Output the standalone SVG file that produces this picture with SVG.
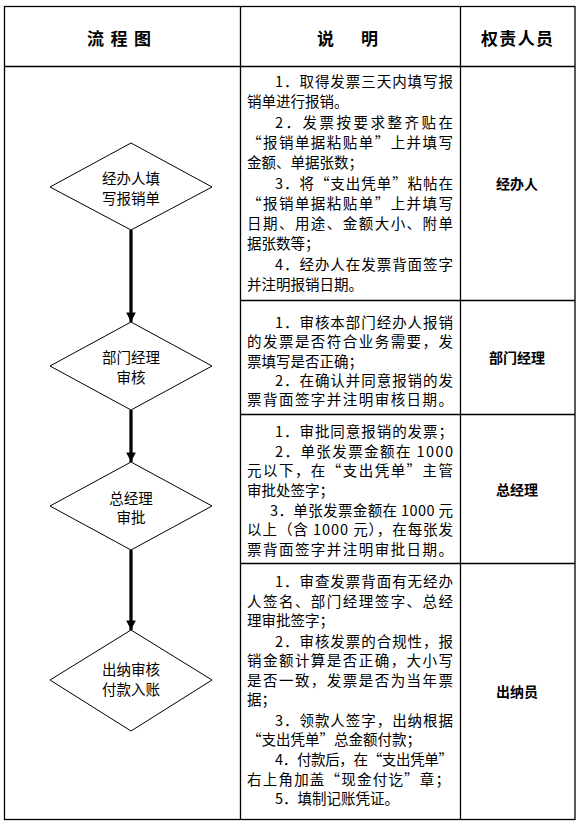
<svg xmlns="http://www.w3.org/2000/svg" width="581" height="825" viewBox="0 0 581 825">
<style>
.grid{stroke:#000;stroke-width:1.3;fill:none}
.dia{fill:#fff;stroke:#000;stroke-width:1}
.arr{stroke:#000;stroke-width:3.2;fill:none}
text{font-family:"Noto Sans CJK SC","Liberation Sans",sans-serif;fill:#000;dominant-baseline:central}
.hd{font-size:17px;font-weight:bold}
.dt{font-size:14.5px;text-anchor:middle}
.rl{font-size:14px;font-weight:bold;text-anchor:middle}
.ds{font-size:14.5px}
</style>
<defs>
<marker id="ah" viewBox="0 0 10 10" refX="10" refY="5" markerWidth="3" markerHeight="3" orient="auto" markerUnits="strokeWidth">
<path d="M0,0 L10,5 L0,10 z" fill="#000"/>
</marker>
</defs>
<rect width="581" height="825" fill="#fff"/>
<g id="table">
<rect class="grid" x="4.5" y="6.5" width="570.5" height="813"/>
<line class="grid" x1="240.5" y1="6.5" x2="240.5" y2="819.5"/>
<line class="grid" x1="460.5" y1="6.5" x2="460.5" y2="819.5"/>
<line class="grid" x1="4.5" y1="66.5" x2="575" y2="66.5"/>
<line class="grid" x1="240.5" y1="300.5" x2="575" y2="300.5"/>
<line class="grid" x1="240.5" y1="414.5" x2="575" y2="414.5"/>
<line class="grid" x1="240.5" y1="563.5" x2="575" y2="563.5"/>
</g>
<g id="header">
<text class="hd" x="87" y="37" textLength="64" lengthAdjust="spacing">流 程 图</text>
<text class="hd" x="317" y="37" textLength="61" lengthAdjust="spacing">说 明</text>
<text class="hd" x="481" y="37" textLength="72" lengthAdjust="spacing">权责人员</text>
</g>
<g id="connectors">
<line class="arr" x1="131" y1="230" x2="131" y2="322" marker-end="url(#ah)"/>
<line class="arr" x1="131" y1="410" x2="131" y2="462" marker-end="url(#ah)"/>
<line class="arr" x1="131" y1="550" x2="131" y2="630" marker-end="url(#ah)"/>
</g>
<g id="node1">
<polygon class="dia" points="131,143 212,187 131,230 50,187"/>
<text class="dt" x="131" y="177">经办人填</text>
<text class="dt" x="131" y="197">写报销单</text>
</g>
<g id="node2">
<polygon class="dia" points="131,322 212,366 131,410 50,366"/>
<text class="dt" x="131" y="356">部门经理</text>
<text class="dt" x="131" y="376">审核</text>
</g>
<g id="node3">
<polygon class="dia" points="131,462 212,506 131,550 50,506"/>
<text class="dt" x="131" y="497">总经理</text>
<text class="dt" x="131" y="516">审批</text>
</g>
<g id="node4">
<polygon class="dia" points="131,630 212,680 131,731 50,680"/>
<text class="dt" x="131" y="668">出纳审核</text>
<text class="dt" x="131" y="688">付款入账</text>
</g>
<g id="desc1">
<text class="ds" x="275" y="80" textLength="178" lengthAdjust="spacing">1．取得发票三天内填写报</text>
<text class="ds" x="247" y="100">销单进行报销。</text>
<text class="ds" x="275" y="121" textLength="178" lengthAdjust="spacing">2．发票按要求整齐贴在</text>
<text class="ds" x="247" y="141" textLength="206" lengthAdjust="spacing">“报销单据粘贴单”上并填写</text>
<text class="ds" x="247" y="161">金额、单据张数；</text>
<text class="ds" x="275" y="182" textLength="178" lengthAdjust="spacing">3．将“支出凭单”粘帖在</text>
<text class="ds" x="247" y="202" textLength="206" lengthAdjust="spacing">“报销单据粘贴单”上并填写</text>
<text class="ds" x="247" y="222" textLength="206" lengthAdjust="spacing">日期、用途、金额大小、附单</text>
<text class="ds" x="247" y="242">据张数等；</text>
<text class="ds" x="275" y="263" textLength="178" lengthAdjust="spacing">4．经办人在发票背面签字</text>
<text class="ds" x="247" y="283">并注明报销日期。</text>
</g>
<g id="desc2">
<text class="ds" x="275" y="321" textLength="178" lengthAdjust="spacing">1．审核本部门经办人报销</text>
<text class="ds" x="247" y="340" textLength="206" lengthAdjust="spacing">的发票是否符合业务需要，发</text>
<text class="ds" x="247" y="360">票填写是否正确；</text>
<text class="ds" x="275" y="379" textLength="178" lengthAdjust="spacing">2．在确认并同意报销的发</text>
<text class="ds" x="247" y="398" textLength="206" lengthAdjust="spacing">票背面签字并注明审核日期。</text>
</g>
<g id="desc3">
<text class="ds" x="275" y="430" textLength="178" lengthAdjust="spacing">1．审批同意报销的发票；</text>
<text class="ds" x="275" y="450" textLength="178" lengthAdjust="spacing">2．单张发票金额在 1000</text>
<text class="ds" x="247" y="469" textLength="206" lengthAdjust="spacing">元以下，在“支出凭单”主管</text>
<text class="ds" x="247" y="489">审批处签字；</text>
<text class="ds" x="270" y="509" textLength="183" lengthAdjust="spacing">3．单张发票金额在 1000 元</text>
<text class="ds" x="247" y="528" textLength="206" lengthAdjust="spacing">以上（含 1000 元），在每张发</text>
<text class="ds" x="247" y="548" textLength="206" lengthAdjust="spacing">票背面签字并注明审批日期。</text>
</g>
<g id="desc4">
<text class="ds" x="275" y="580" textLength="178" lengthAdjust="spacing">1．审查发票背面有无经办</text>
<text class="ds" x="247" y="600" textLength="206" lengthAdjust="spacing">人签名、部门经理签字、总经</text>
<text class="ds" x="247" y="619">理审批签字；</text>
<text class="ds" x="275" y="640" textLength="178" lengthAdjust="spacing">2．审核发票的合规性，报</text>
<text class="ds" x="247" y="659" textLength="206" lengthAdjust="spacing">销金额计算是否正确，大小写</text>
<text class="ds" x="247" y="679" textLength="206" lengthAdjust="spacing">是否一致，发票是否为当年票</text>
<text class="ds" x="247" y="698">据；</text>
<text class="ds" x="275" y="719" textLength="178" lengthAdjust="spacing">3．领款人签字，出纳根据</text>
<text class="ds" x="247" y="738">“支出凭单”总金额付款；</text>
<text class="ds" x="275" y="758" textLength="178" lengthAdjust="spacing">4．付款后，在“支出凭单”</text>
<text class="ds" x="247" y="778" textLength="203" lengthAdjust="spacing">右上角加盖“现金付讫”章；</text>
<text class="ds" x="275" y="797">5．填制记账凭证。</text>
</g>
<g id="role1"><text class="rl" x="517" y="183">经办人</text></g>
<g id="role2"><text class="rl" x="517" y="357">部门经理</text></g>
<g id="role3"><text class="rl" x="517" y="489">总经理</text></g>
<g id="role4"><text class="rl" x="517" y="691">出纳员</text></g>
</svg>
